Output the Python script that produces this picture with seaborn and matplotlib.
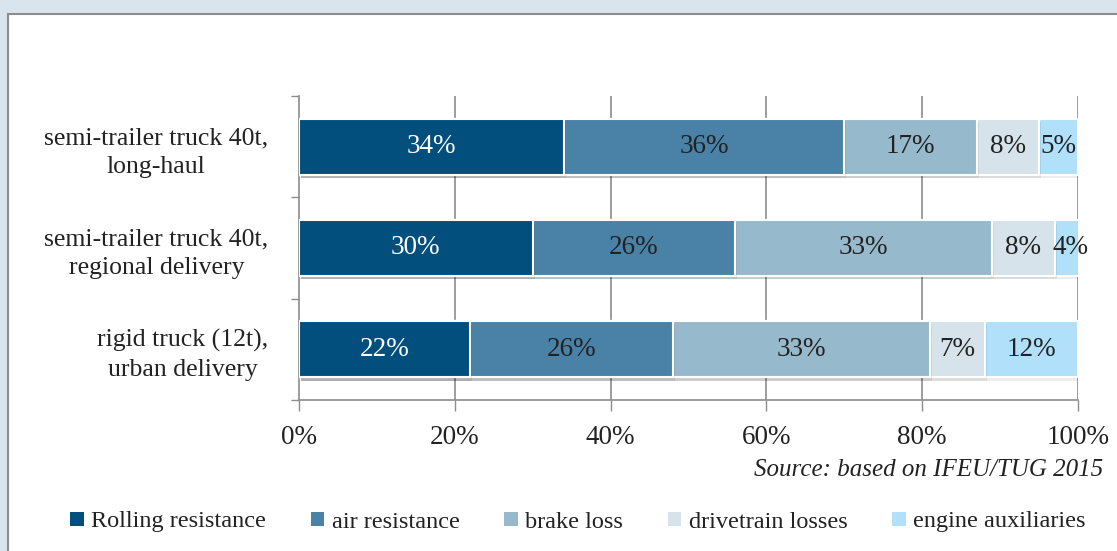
import matplotlib
matplotlib.use("Agg")
import matplotlib.pyplot as plt
import matplotlib.patheffects as pe
from matplotlib.patches import Rectangle, Patch
import numpy as np
import pandas as pd
import seaborn as sns

categories = ["semi-trailer truck 40t,\nlong-haul",
              "semi-trailer truck 40t,\nregional delivery",
              "rigid truck (12t),\nurban delivery"]
series = ["Rolling resistance", "air resistance", "brake loss",
          "drivetrain losses", "engine auxiliaries"]
rolling = [34, 30, 22]
air = [36, 26, 26]
brake = [17, 33, 33]
drivetrain = [8, 8, 7]
auxiliaries = [5, 4, 12]
colors = ["#024F7E", "#4A81A6", "#97B9CC", "#D7E3EB", "#B0E0FA"]
text_colors = ["white", "#222222", "#222222", "#222222", "#222222"]
xticks = [0, 20, 40, 60, 80, 100]
xticklabels = ["0%", "20%", "40%", "60%", "80%", "100%"]
source = "Source: based on IFEU/TUG 2015"

sns.set_theme(style="white")
plt.rcParams["font.family"] = ["Liberation Serif", "DejaVu Serif"]

values = np.array([rolling, air, brake, drivetrain, auxiliaries], dtype=float)
cum = np.cumsum(values, axis=0)

fig = plt.figure(figsize=(11.17, 5.51), dpi=100)
fig.patch.set_facecolor("#D9E4EC")
fig.patches.append(Rectangle((8 / 1117, -0.05), 1.2, 1 - 14 / 551 + 0.05,
                             transform=fig.transFigure, facecolor="white",
                             edgecolor="#8C8C8C", linewidth=1.5, zorder=-5))

ax = fig.add_axes([299 / 1117, 1 - 400 / 551, (1078 - 299) / 1117, (400 - 96) / 551])
ax.set_facecolor("none")
ax.set_zorder(2)

shadow = [pe.SimplePatchShadow(offset=(1.5, -2.5), shadow_rgbFace="#000000", alpha=0.07), pe.Normal()]
for i in range(len(series) - 1, -1, -1):
    df = pd.DataFrame({"cat": categories, "val": cum[i]})
    sns.barplot(data=df, x="val", y="cat", orient="h", color=colors[i],
                saturation=1, width=0.55, edgecolor="white", linewidth=1.5,
                ax=ax, zorder=3)
for p in ax.patches:
    p.set_path_effects(shadow)

for i in range(len(series)):
    for j in range(len(categories)):
        center = cum[i][j] - values[i][j] / 2
        ax.text(center, j, f"{int(values[i][j])}%", ha="center", va="center",
                fontsize=19.5, color=text_colors[i], zorder=5)

ax.set_xlim(0, 100)
ax.set_ylim(2.5, -0.5)
ax.set_xticks(xticks)
ax.set_xticklabels(xticklabels, fontsize=19.5, color="#222222")
ax.set_yticks([-0.5, 0.5, 1.5, 2.5])
ax.set_yticklabels([])
ax.set_yticks([0, 1, 2], minor=True)
ax.set_yticklabels(categories, minor=True, fontsize=18.5, color="#222222",
                   linespacing=1.4)
ax.tick_params(axis="y", which="minor", length=0, pad=22)
ax.tick_params(axis="y", which="major", length=6, width=1, color="#8C8C8C", left=True)
ax.tick_params(axis="x", length=8, width=1, color="#8C8C8C", bottom=True, pad=10)
for lab in ax.get_yticklabels(minor=True):
    lab.set_ha("right")
    lab.set_multialignment("center")
ax.set_xlabel("")
ax.set_ylabel("")
for x in xticks[1:]:
    ax.axvline(x, color="#8C8C8C", linewidth=1.2, zorder=1)
for s in ["top", "right"]:
    ax.spines[s].set_visible(False)
for s in ["left", "bottom"]:
    ax.spines[s].set_color("#8C8C8C")
    ax.spines[s].set_linewidth(1.2)

fig.text(1103 / 1117, 1 - 470 / 551, source, ha="right", va="center",
         fontsize=18, style="italic", color="#222222")

handles = [Patch(facecolor=c, edgecolor="none", label=s) for c, s in zip(colors, series)]
fig.legend(handles=handles, loc="center", bbox_to_anchor=(578 / 1117, 1 - 522 / 551),
           ncol=5, frameon=False, fontsize=17.5, handlelength=0.55, handleheight=0.55,
           handletextpad=0.3, columnspacing=1.85, labelcolor="#222222")

fig.savefig("out.png", dpi=100, facecolor=fig.get_facecolor())
